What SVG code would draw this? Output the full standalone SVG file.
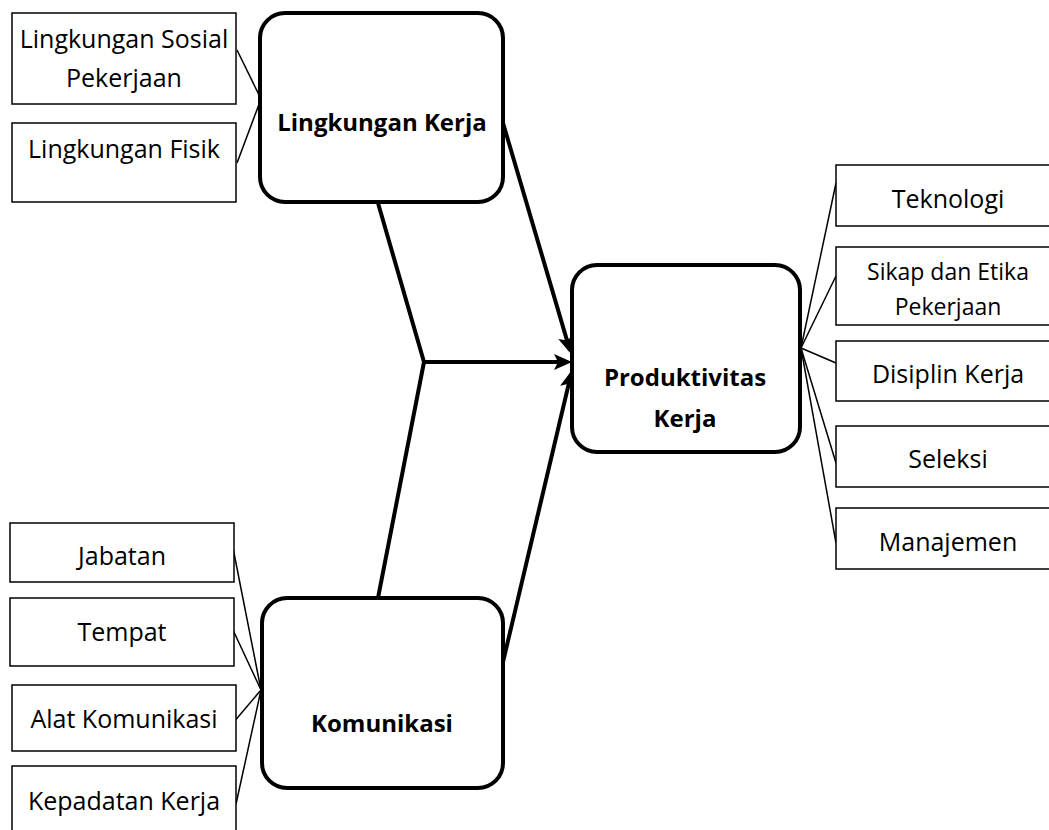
<svg xmlns="http://www.w3.org/2000/svg" width="1049" height="830" viewBox="0 0 1049 830">
<style>
  .bg { fill: #ffffff; }
  .box { fill: #ffffff; stroke: #000000; stroke-width: 1.5; }
  .main { fill: #ffffff; stroke: #000000; stroke-width: 4; }
  .t { font-family: "Open Sans", "Noto Sans", sans-serif; font-size: 25px; fill: #000000; text-anchor: middle; }
  .ts { font-size: 23px; }
  .tb { font-family: "Open Sans", "Noto Sans", sans-serif; font-size: 24px; font-weight: bold; fill: #000000; text-anchor: middle; }
  .thin { fill: none; stroke: #000000; stroke-width: 1.5; }
  .thick { fill: none; stroke: #000000; stroke-width: 4; stroke-linejoin: miter; }
  .arrow { fill: none; stroke: #000000; stroke-width: 4; marker-end: url(#ah); }
</style>
<defs>
  <marker id="ah" viewBox="0 0 18 16" refX="14" refY="8" markerWidth="18" markerHeight="16" markerUnits="userSpaceOnUse" orient="auto">
    <path d="M0,0 L18,8 L0,16 L4,8 z" fill="#000000"/>
  </marker>
</defs>
<rect class="bg" x="0" y="0" width="1049" height="830"/>

<g id="connectors">
  <line class="thin" x1="237" y1="50" x2="261" y2="99"/>
  <line class="thin" x1="237" y1="163" x2="261" y2="99"/>
  <line class="thin" x1="233" y1="548" x2="261" y2="690"/>
  <line class="thin" x1="233" y1="630" x2="261" y2="690"/>
  <line class="thin" x1="233" y1="723" x2="261" y2="690"/>
  <line class="thin" x1="236" y1="804" x2="261" y2="690"/>
  <line class="thin" x1="801" y1="348" x2="836" y2="183"/>
  <line class="thin" x1="801" y1="348" x2="836" y2="276"/>
  <line class="thin" x1="801" y1="348" x2="836" y2="363"/>
  <line class="thin" x1="801" y1="348" x2="836" y2="463"/>
  <line class="thin" x1="801" y1="348" x2="836" y2="543"/>
  <polyline class="thick" points="378,203 424,362 378,598"/>
  <line class="arrow" x1="424" y1="362" x2="568" y2="362"/>
  <line class="arrow" x1="503" y1="123" x2="569.9" y2="350.2"/>
  <line class="arrow" x1="503" y1="662" x2="571.1" y2="373.9"/>
</g>

<g id="n-lingkungan-sosial">
  <rect class="box" x="12" y="13" width="224" height="91"/>
  <text class="t" x="124" y="48">Lingkungan Sosial</text>
  <text class="t" x="124" y="87">Pekerjaan</text>
</g>
<g id="n-lingkungan-fisik">
  <rect class="box" x="12" y="123" width="224" height="79"/>
  <text class="t" x="124" y="158">Lingkungan Fisik</text>
</g>
<g id="n-lingkungan-kerja">
  <rect class="main" x="260" y="13" width="243" height="189" rx="25" ry="25"/>
  <text class="tb" x="382" y="131">Lingkungan Kerja</text>
</g>
<g id="n-produktivitas">
  <rect class="main" x="572" y="265" width="228" height="187" rx="25" ry="25"/>
  <text class="tb" x="685" y="386">Produktivitas</text>
  <text class="tb" x="685" y="427">Kerja</text>
</g>
<g id="n-komunikasi">
  <rect class="main" x="262" y="598" width="241" height="190" rx="25" ry="25"/>
  <text class="tb" x="382" y="732">Komunikasi</text>
</g>

<g id="n-teknologi">
  <rect class="box" x="836" y="165" width="260" height="61"/>
  <text class="t" x="948" y="208">Teknologi</text>
</g>
<g id="n-sikap">
  <rect class="box" x="836" y="247" width="260" height="78"/>
  <text class="t ts" x="948" y="280">Sikap dan Etika</text>
  <text class="t ts" x="948" y="315">Pekerjaan</text>
</g>
<g id="n-disiplin">
  <rect class="box" x="836" y="341" width="260" height="60"/>
  <text class="t" x="948" y="383">Disiplin Kerja</text>
</g>
<g id="n-seleksi">
  <rect class="box" x="836" y="426" width="260" height="61"/>
  <text class="t" x="948" y="468">Seleksi</text>
</g>
<g id="n-manajemen">
  <rect class="box" x="836" y="508" width="260" height="61"/>
  <text class="t" x="948" y="551">Manajemen</text>
</g>

<g id="n-jabatan">
  <rect class="box" x="10" y="523" width="224" height="59"/>
  <text class="t" x="122" y="565">Jabatan</text>
</g>
<g id="n-tempat">
  <rect class="box" x="10" y="598" width="224" height="68"/>
  <text class="t" x="122" y="641">Tempat</text>
</g>
<g id="n-alat">
  <rect class="box" x="12" y="685" width="224" height="66"/>
  <text class="t" x="124" y="728">Alat Komunikasi</text>
</g>
<g id="n-kepadatan">
  <rect class="box" x="12" y="766" width="224" height="100"/>
  <text class="t" x="124" y="810">Kepadatan Kerja</text>
</g>
</svg>
